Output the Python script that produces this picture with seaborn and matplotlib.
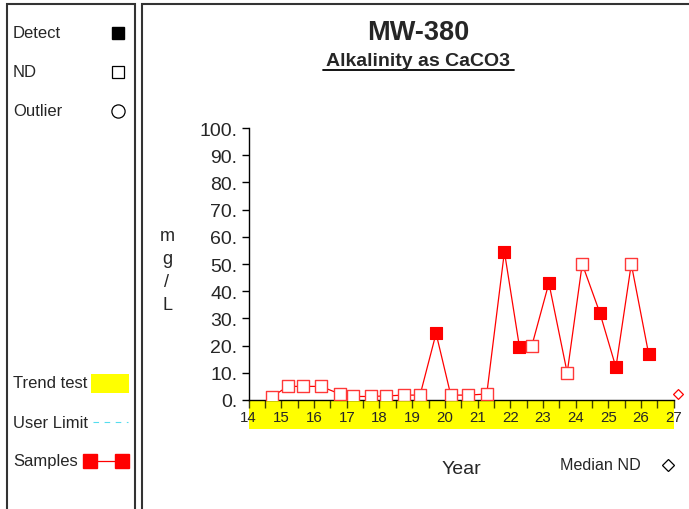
import matplotlib
matplotlib.use("Agg")
import matplotlib.pyplot as plt
from matplotlib.patches import Rectangle
from matplotlib.lines import Line2D
from matplotlib.ticker import MultipleLocator, FuncFormatter
import seaborn as sns
import pandas as pd

# ---- data ----
years = [14.72, 15.19, 15.67, 16.21, 16.79, 17.18, 17.73, 18.20, 18.75, 19.24,
         19.73, 20.18, 20.71, 21.28, 21.82, 22.28, 22.66, 23.18, 23.74, 24.20,
         24.74, 25.23, 25.70, 26.23]
values = [1.2, 5.0, 5.0, 5.0, 2.2, 1.3, 1.3, 1.5, 1.8, 1.8,
          24.5, 1.8, 1.8, 2.2, 54.5, 19.5, 20.0, 43.0, 10.0, 50.0,
          32.0, 12.0, 50.0, 17.0]
detect = [False, False, False, False, False, False, False, False, False, False,
          True, False, False, False, True, True, False, True, False, False,
          True, True, False, True]
median_nd_year = [27.12]
median_nd_value = [2.1]
title = "MW-380"
subtitle = "Alkalinity as CaCO3"
unit_label = "m\ng\n/\nL"

df = pd.DataFrame({"year": years, "value": values, "detect": detect})

sns.set_style("white")
plt.rcParams["font.family"] = ["Liberation Sans", "DejaVu Sans"]

W, H = 689, 510
fig = plt.figure(figsize=(W / 100, H / 100), dpi=100)

def fx(p):
    return p / W

def fy(p):
    return 1 - p / H

# panel frames
fig.add_artist(Rectangle((fx(7), fy(515)), fx(128), fy(5) - fy(515), transform=fig.transFigure,
                         fill=False, edgecolor="#333333", lw=1.5))
fig.add_artist(Rectangle((fx(142), fy(515)), fx(560), fy(5) - fy(515), transform=fig.transFigure,
                         fill=False, edgecolor="#333333", lw=1.5))

# main axes
x0, x1, ytop, ybot = 248.7, 673.8, 129, 401
ax = fig.add_axes([fx(x0), fy(ybot), fx(x1 - x0), (ybot - ytop) / H])
ax.set_facecolor("none")

sns.lineplot(data=df, x="year", y="value", estimator=None, sort=False, color="red",
             lw=0.9, ax=ax, zorder=3)
sns.scatterplot(data=df[df.detect], x="year", y="value", marker="s", s=65, color="red",
                edgecolor="red", linewidth=0.8, ax=ax, zorder=4)
sns.scatterplot(data=df[~df.detect], x="year", y="value", marker="s", s=65, facecolor="white",
                edgecolor="#ff3838", linewidth=1.0, ax=ax, zorder=4)
sns.scatterplot(x=median_nd_year, y=median_nd_value, marker="D", s=25, facecolor="white",
                edgecolor="red", linewidth=0.9, ax=ax, zorder=4, clip_on=False)

ax.set_xlim(14, 27)
ax.set_ylim(0, 100)
for s in ["top", "right"]:
    ax.spines[s].set_visible(False)
ax.spines["left"].set_color("black")
ax.spines["bottom"].set_color("black")
ax.spines["left"].set_linewidth(1.0)
ax.spines["bottom"].set_linewidth(1.0)

ax.yaxis.set_major_locator(MultipleLocator(10))
ax.yaxis.set_major_formatter(FuncFormatter(lambda v, p: f"{v:.0f}."))
ax.xaxis.set_major_locator(MultipleLocator(1))
ax.xaxis.set_minor_locator(MultipleLocator(0.5))
ax.xaxis.set_major_formatter(FuncFormatter(lambda v, p: f"{v:.0f}"))
ax.tick_params(axis="y", which="major", direction="out", length=5, width=1, color="black",
               labelsize=14, pad=3, left=True)
ax.tick_params(axis="x", which="both", direction="out", length=6, width=1, color="#444400",
               labelsize=10.8, pad=1, bottom=True)
ax.set_xlabel("")
ax.set_ylabel("")

# trend test band
ax.add_patch(Rectangle((0, -29 / 272), 1, 29 / 272, transform=ax.transAxes, clip_on=False,
                       facecolor="#ffff00", edgecolor="none", zorder=0.5))

# titles
fig.text(fx(418), fy(33), title, ha="center", va="center", fontsize=19.5, fontweight="bold")
fig.text(fx(418), fy(61), subtitle, ha="center", va="center", fontsize=14, fontweight="bold")
fig.add_artist(Line2D([fx(323), fx(514)], [fy(70.5), fy(70.5)], color="black", lw=1.3,
                      transform=fig.transFigure))

# axis labels
fig.text(fx(167), fy(271), unit_label, ha="center", va="center", fontsize=13,
         linespacing=1.48)
fig.text(fx(461), fy(470), "Year", ha="center", va="center", fontsize=14)
fig.text(fx(600), fy(466), "Median ND", ha="center", va="center", fontsize=11.6)
fig.add_artist(Line2D([fx(668)], [fy(466)], marker="D", markersize=6.5, markerfacecolor="white",
                      markeredgecolor="black", markeredgewidth=0.9, transform=fig.transFigure))

# left legend panel
lg_fs = 12
fig.text(fx(13), fy(34), "Detect", ha="left", va="center", fontsize=lg_fs)
fig.add_artist(Line2D([fx(118)], [fy(34)], marker="s", markersize=9, markerfacecolor="black",
                      markeredgecolor="black", transform=fig.transFigure))
fig.text(fx(13), fy(73), "ND", ha="left", va="center", fontsize=lg_fs)
fig.add_artist(Line2D([fx(118)], [fy(73)], marker="s", markersize=9, markerfacecolor="white",
                      markeredgecolor="black", markeredgewidth=0.9, transform=fig.transFigure))
fig.text(fx(13), fy(112), "Outlier", ha="left", va="center", fontsize=lg_fs)
fig.add_artist(Line2D([fx(118)], [fy(112)], marker="o", markersize=9.5, markerfacecolor="white",
                      markeredgecolor="black", markeredgewidth=0.9, transform=fig.transFigure))

fig.text(fx(13), fy(384), "Trend test", ha="left", va="center", fontsize=lg_fs)
fig.add_artist(Rectangle((fx(91), fy(394)), fx(38), fy(375) - fy(394), transform=fig.transFigure,
                         facecolor="#ffff00", edgecolor="none"))
fig.text(fx(13), fy(423), "User Limit", ha="left", va="center", fontsize=lg_fs)
fig.add_artist(Line2D([fx(93), fx(128)], [fy(423), fy(423)], color="#55ddee", lw=0.8,
                      linestyle=(0, (5, 5)), transform=fig.transFigure))
fig.text(fx(13), fy(462), "Samples", ha="left", va="center", fontsize=lg_fs)
fig.add_artist(Line2D([fx(89.5), fx(122)], [fy(462), fy(462)], color="red", lw=0.9,
                      marker="s", markersize=10, markerfacecolor="red", markeredgecolor="red",
                      transform=fig.transFigure))

fig.savefig("out.png", dpi=100)
